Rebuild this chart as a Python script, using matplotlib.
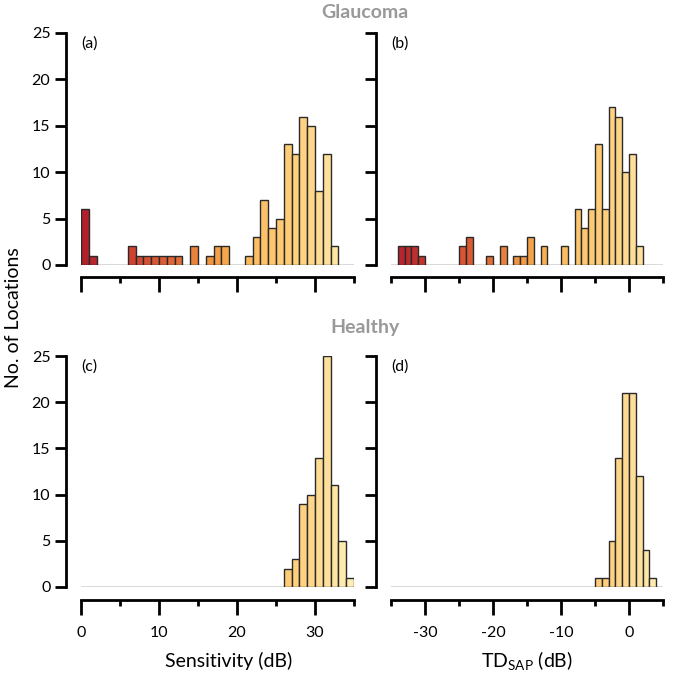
import matplotlib
matplotlib.use("Agg")
import matplotlib.pyplot as plt
from matplotlib.colors import LinearSegmentedColormap
import numpy as np

plt.rcParams['font.family'] = ['Lato', 'DejaVu Sans']
plt.rcParams['mathtext.fontset'] = 'custom'
plt.rcParams['mathtext.rm'] = 'Lato'
plt.rcParams['mathtext.it'] = 'Lato:italic'
plt.rcParams['mathtext.bf'] = 'Lato:bold'
plt.rcParams['axes.unicode_minus'] = False

# ---- data (left bin edges, 1 dB bins) ----
glaucoma_sens_bins = [0, 1, 6, 7, 8, 9, 10, 11, 12, 14, 16, 17, 18, 21, 22, 23, 24, 25, 26, 27, 28, 29, 30, 31, 32]
glaucoma_sens_counts = [6, 1, 2, 1, 1, 1, 1, 1, 1, 2, 1, 2, 2, 1, 3, 7, 4, 5, 13, 12, 16, 15, 8, 12, 2]

glaucoma_td_bins = [-34, -33, -32, -31, -25, -24, -21, -19, -17, -16, -15, -13, -10, -8, -7, -6, -5, -4, -3, -2, -1, 0, 1]
glaucoma_td_counts = [2, 2, 2, 1, 2, 3, 1, 2, 1, 1, 3, 2, 2, 6, 4, 6, 13, 6, 17, 16, 10, 12, 2]

healthy_sens_bins = [26, 27, 28, 29, 30, 31, 32, 33, 34]
healthy_sens_counts = [2, 3, 9, 10, 14, 25, 11, 5, 1]

healthy_td_bins = [-5, -4, -3, -2, -1, 0, 1, 2, 3]
healthy_td_counts = [1, 1, 5, 14, 21, 21, 12, 4, 1]

sens_ticks = [0, 10, 20, 30]
td_ticks = [-30, -20, -10, 0]
y_ticks = [0, 5, 10, 15, 20, 25]

cmap = LinearSegmentedColormap.from_list('heat', [
    (0.0, '#b01e2c'), (0.2, '#d34430'), (0.35, '#e06a37'), (0.45, '#ee903f'),
    (0.55, '#f8ad4e'), (0.68, '#fdc46b'), (0.8, '#fed07e'), (0.92, '#fee3a0'),
    (1.0, '#fff0bb')])

W, H = 675, 673
fig = plt.figure(figsize=(W / 100, H / 100), dpi=100)

def frac_rect(x0, x1, ytop, ybot):
    return [x0 / W, 1 - ybot / H, (x1 - x0) / W, (ybot - ytop) / H]

panels = [
    dict(rect=frac_rect(81, 354, 33, 265), bins=glaucoma_sens_bins, counts=glaucoma_sens_counts,
         xlim=(0, 35), ticks=sens_ticks, label='(a)', ylab=True, xlab=False),
    dict(rect=frac_rect(391, 663, 33, 265), bins=glaucoma_td_bins, counts=glaucoma_td_counts,
         xlim=(-35, 5), ticks=td_ticks, label='(b)', ylab=False, xlab=False),
    dict(rect=frac_rect(81, 354, 356, 587), bins=healthy_sens_bins, counts=healthy_sens_counts,
         xlim=(0, 35), ticks=sens_ticks, label='(c)', ylab=True, xlab=True),
    dict(rect=frac_rect(391, 663, 356, 587), bins=healthy_td_bins, counts=healthy_td_counts,
         xlim=(-35, 5), ticks=td_ticks, label='(d)', ylab=False, xlab=True),
]

axes = []
for p in panels:
    ax = fig.add_axes(p['rect'])
    axes.append(ax)
    lo, hi = p['xlim']
    bins = np.array(p['bins'], dtype=float)
    t = (bins + 0.5 - lo) / (hi - lo)
    colors = [cmap(v) for v in t]
    ax.axhline(0, color='#444444', lw=1.0, zorder=1)
    ax.bar(bins, p['counts'], width=1.0, align='edge', color=colors,
           edgecolor='#2a2a2a', linewidth=1.0, zorder=2)
    ax.set_xlim(lo, hi)
    ax.set_ylim(0, 25)
    for s in ['top', 'right']:
        ax.spines[s].set_visible(False)
    ax.spines['left'].set_position(('outward', 11))
    ax.spines['bottom'].set_position(('outward', 9))
    ax.spines['left'].set_linewidth(2)
    ax.spines['bottom'].set_linewidth(2)
    ax.spines['left'].set_bounds(0, 25)
    ax.spines['bottom'].set_bounds(lo, hi)
    ax.set_yticks(y_ticks)
    ax.set_xticks(p['ticks'])
    ax.set_xticks(np.arange(lo, hi + 0.1, 5), minor=True)
    ax.tick_params(axis='y', which='major', length=8, width=2, direction='out', labelsize=11.5, pad=3)
    ax.tick_params(axis='x', which='major', length=11, width=2, direction='out', labelsize=11.5, pad=8)
    ax.tick_params(axis='x', which='minor', length=4, width=2, direction='out')
    if not p['ylab']:
        ax.set_yticklabels([])
    if not p['xlab']:
        ax.set_xticklabels([])
    ax.text(0.0, 0.985, p['label'], transform=ax.transAxes, fontsize=11.5, va='top', ha='left')
    ax.patch.set_alpha(0)

fig.text(365 / W, 1 - 12 / H, 'Glaucoma', fontsize=14, fontweight='bold', color='#999999',
         ha='center', va='center')
fig.text(365 / W, 1 - 327 / H, 'Healthy', fontsize=14, fontweight='bold', color='#999999',
         ha='center', va='center')
fig.text(14 / W, 1 - 318 / H, 'No. of Locations', fontsize=14, rotation=90, ha='center', va='center')
fig.text(229 / W, 1 - 661 / H, 'Sensitivity (dB)', fontsize=14, ha='center', va='center')
fig.text(527 / W, 1 - 661 / H, r'TD$_{\mathrm{SAP}}$ (dB)', fontsize=14, ha='center', va='center')

fig.savefig('out.png', dpi=100)
